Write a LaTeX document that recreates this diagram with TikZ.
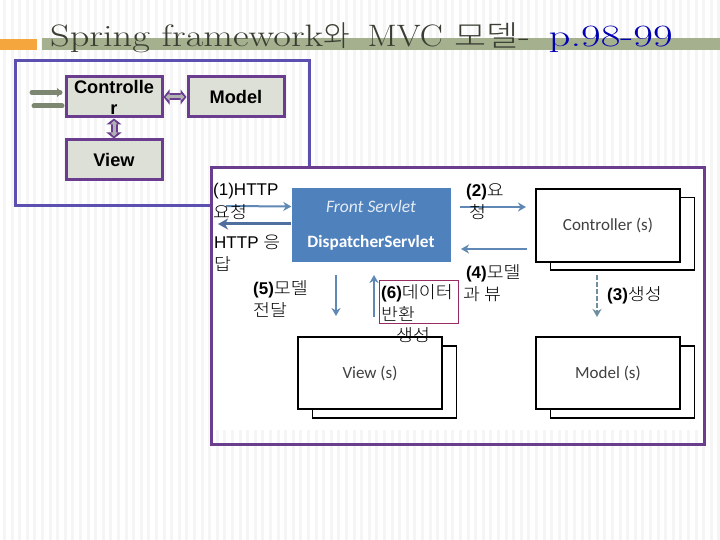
\documentclass[tikz,border=0pt]{standalone}
\usepackage{fontspec}
\setmainfont{Liberation Sans}
\newfontfamily\cjk{Noto Sans CJK KR Light}[FakeStretch=1.08]
\newfontfamily\cjkt{Noto Sans CJK KR Light}[FakeStretch=1.0]
\newfontfamily\cjkm{Noto Sans CJK KR Light}[FakeStretch=1.2]
\newfontfamily\ttl{Latin Modern Roman}[FakeStretch=1.24]
\newfontfamily\ttlm{Latin Modern Roman}[FakeStretch=1.11]
\newfontfamily\ttlp{Latin Modern Roman}[FakeStretch=1.38]
\newfontfamily\cali{Carlito}
\usetikzlibrary{arrows.meta}
\definecolor{pur}{HTML}{6A3D8F}
\definecolor{blu}{HTML}{5B4FB0}
\definecolor{fillg}{HTML}{DDE0D6}
\definecolor{band}{HTML}{A5B08F}
\definecolor{org}{HTML}{F5A63C}
\definecolor{srv}{HTML}{4F81BD}
\definecolor{arr}{HTML}{5F88B5}
\definecolor{arrd}{HTML}{4F6F9F}
\definecolor{arrg}{HTML}{6F8FA0}
\definecolor{garr}{HTML}{7D8670}
\definecolor{stripe}{HTML}{F5F5F5}
\tikzset{
 x=1pt,y=-1pt,
 mvcbox/.style={draw=pur,line width=3pt,fill=fillg,minimum width=96pt,minimum height=40pt,inner sep=0pt,font=\fontsize{18.2}{21}\selectfont\bfseries,align=center},
 sheet/.style={draw=black,line width=2pt,fill=white,minimum width=144pt,minimum height=72pt,inner sep=0pt,font=\cali\fontsize{17}{19}\selectfont,text=black!75},
 backsheet/.style={draw=black,line width=1.5pt,fill=white,minimum width=144pt,minimum height=72pt},
 srvbox/.style={fill=srv,minimum width=159pt,minimum height=37.5pt,inner sep=0pt,text=white},
 lbl/.style={font=\fontsize{17}{22}\selectfont,align=left,inner sep=0pt,anchor=north west},
 flow/.style={arr,line width=2pt,-{Stealth[length=8pt,width=9pt,inset=2.5pt]}},
 flowthick/.style={arrd,line width=3pt,-{Stealth[length=10pt,width=11pt,inset=3pt]}},
 dbl/.style={line width=7pt,pur,{Triangle[length=6pt,width=15pt]}-{Triangle[length=6pt,width=15pt]}},
 dblin/.style={line width=3pt,black!30,{Triangle[length=4pt,width=7pt]}-{Triangle[length=4pt,width=7pt]},shorten >=2pt,shorten <=2pt},
 garrow/.style={garr,line width=5pt,line cap=round}
}
\begin{document}
\begin{tikzpicture}
\useasboundingbox (0,0) rectangle (720,540);
\fill[white] (0,0) rectangle (720,540);
\foreach \i in {0,...,94}{\fill[stripe] ({\i*7.6+3},0) rectangle ({\i*7.6+6},540);}
% title band
\fill[org] (0,39) rectangle (37,50);
\fill[band] (42,38) rectangle (720,50);
\node[anchor=base west,inner sep=0pt,font=\fontsize{31}{34}\selectfont\ttl,text=black!65!band] (title) at (50,47) {Spring framework{\cjkt\fontsize{29}{34}\selectfont 와}\hspace{6pt} {\ttlm MVC} {\cjkm\fontsize{29}{34}\selectfont 모델}- \hspace{7pt}\textcolor{blue!70!black}{\ttlp p.98-99}};
% outer frame
\node[draw=blu,line width=3pt,minimum width=294pt,minimum height=145pt,inner sep=0pt] (outer) at (162,133) {};
% MVC boxes
\node[mvcbox] (ctrl) at (114,97) {};
\node[mvcbox] (model) at (236,97) {Model};
\node[mvcbox] (view) at (114,160) {View};
\coordinate (cin1) at (32,92.5);
\coordinate (cin2) at (60,92.5);
\coordinate (cout1) at (62,106);
\coordinate (cout2) at (34,106);
\draw[garrow] (cin1) -- (cin2);
\draw[garr,-{Triangle[length=5pt,width=9pt]},line width=2pt] (cin2) -- ++(2,0);
\draw[garrow] (cout1) -- (cout2);
\draw[dbl] (ctrl.east) -- (model.west);
\draw[dblin] (ctrl.east) -- (model.west);
\draw[dbl] (ctrl.south) -- (view.north);
\draw[dblin] (ctrl.south) -- (view.north);
\node[font=\fontsize{18.2}{21}\selectfont\bfseries,align=center,inner sep=0pt] (ctrltext) at (114,97.5) {Controlle\\r};
% inner panel
\node[draw=pur,line width=3pt,fill=white,minimum width=493pt,minimum height=277pt,inner sep=0pt] (panel) at (458,306) {};
\foreach \i in {28,...,91}{\fill[stripe] ({\i*7.6+3},430) rectangle ({\i*7.6+6},443);}
% servlet
\node[srvbox,font=\cali\fontsize{17.5}{18}\selectfont\itshape,text=white!85!srv] (front) at (371,206.5) {Front Servlet};
\node[srvbox,font=\cali\fontsize{17.3}{18}\selectfont\bfseries] (disp) at (371,243) {DispatcherServlet};
% sheets
\node[backsheet,anchor=north west] (cb) at (549.5,197) {};
\node[sheet,anchor=north west] (cf) at (535,188.5) {Controller (s)};
\node[backsheet,anchor=north west] (vb) at (311.5,345) {};
\node[sheet,anchor=north west] (vf) at (297,336) {View (s)};
\node[backsheet,anchor=north west] (mb) at (549.5,345) {};
\node[sheet,anchor=north west] (mf) at (535,336) {Model (s)};
% connectors
\coordinate (clientA) at (226,206);
\coordinate (clientB) at (218,224);
\draw[flow] (clientA) -- (front.west);
\draw[flowthick] (disp.north west |- clientB) -- (clientB);
\coordinate (a2s) at (460,207);
\coordinate (a2e) at (526,207);
\draw[flow] (a2s) -- (a2e);
\coordinate (a4s) at (527,249);
\coordinate (a4e) at (461,249);
\draw[flow] (a4s) -- (a4e);
\coordinate (a5s) at (336,275);
\coordinate (a5e) at (336,316);
\draw[flow] (a5s) -- (a5e);
\coordinate (a6s) at (374,317);
\coordinate (a6e) at (374,275);
\draw[flow] (a6s) -- (a6e);
\coordinate (a3s) at (597,275);
\coordinate (a3e) at (597,317);
\draw[flow,draw=arrg,dash pattern=on 5pt off 2pt] (a3s) -- (a3e);
% labels
\node[lbl] (l1) at (213,183) {(1)HTTP\\[1pt]{\cjk 요청}};
\node[lbl] (l1b) at (214,235) {HTTP {\cjk 응}\\{\cjk 답}};
\node[lbl] (l2) at (466,183) {\textbf{(2)}{\cjk 요}\\\,{\cjk 청}};
\node[lbl] (l3) at (607,286) {\textbf{(3)}{\cjk 생성}};
\node[lbl] (l4) at (463,264) {\,\textbf{(4)}{\cjk 모델}\\{\cjk 과 뷰}};
\node[lbl] (l5) at (253,280) {\textbf{(5)}{\cjk 모델}\\{\cjk 전달}};
\node[draw=pur!70!red,line width=0.6pt,fill=none,minimum width=79.5pt,minimum height=43pt,inner sep=0pt] (l6box) at (419,301.5) {};
\node[lbl] (l6) at (381,284) {\textbf{(6)}{\cjk 데이터}\\{\cjk 반환}};
\node[lbl] (l6c) at (396,327) {\cjk 생성};
\end{tikzpicture}
\end{document}
